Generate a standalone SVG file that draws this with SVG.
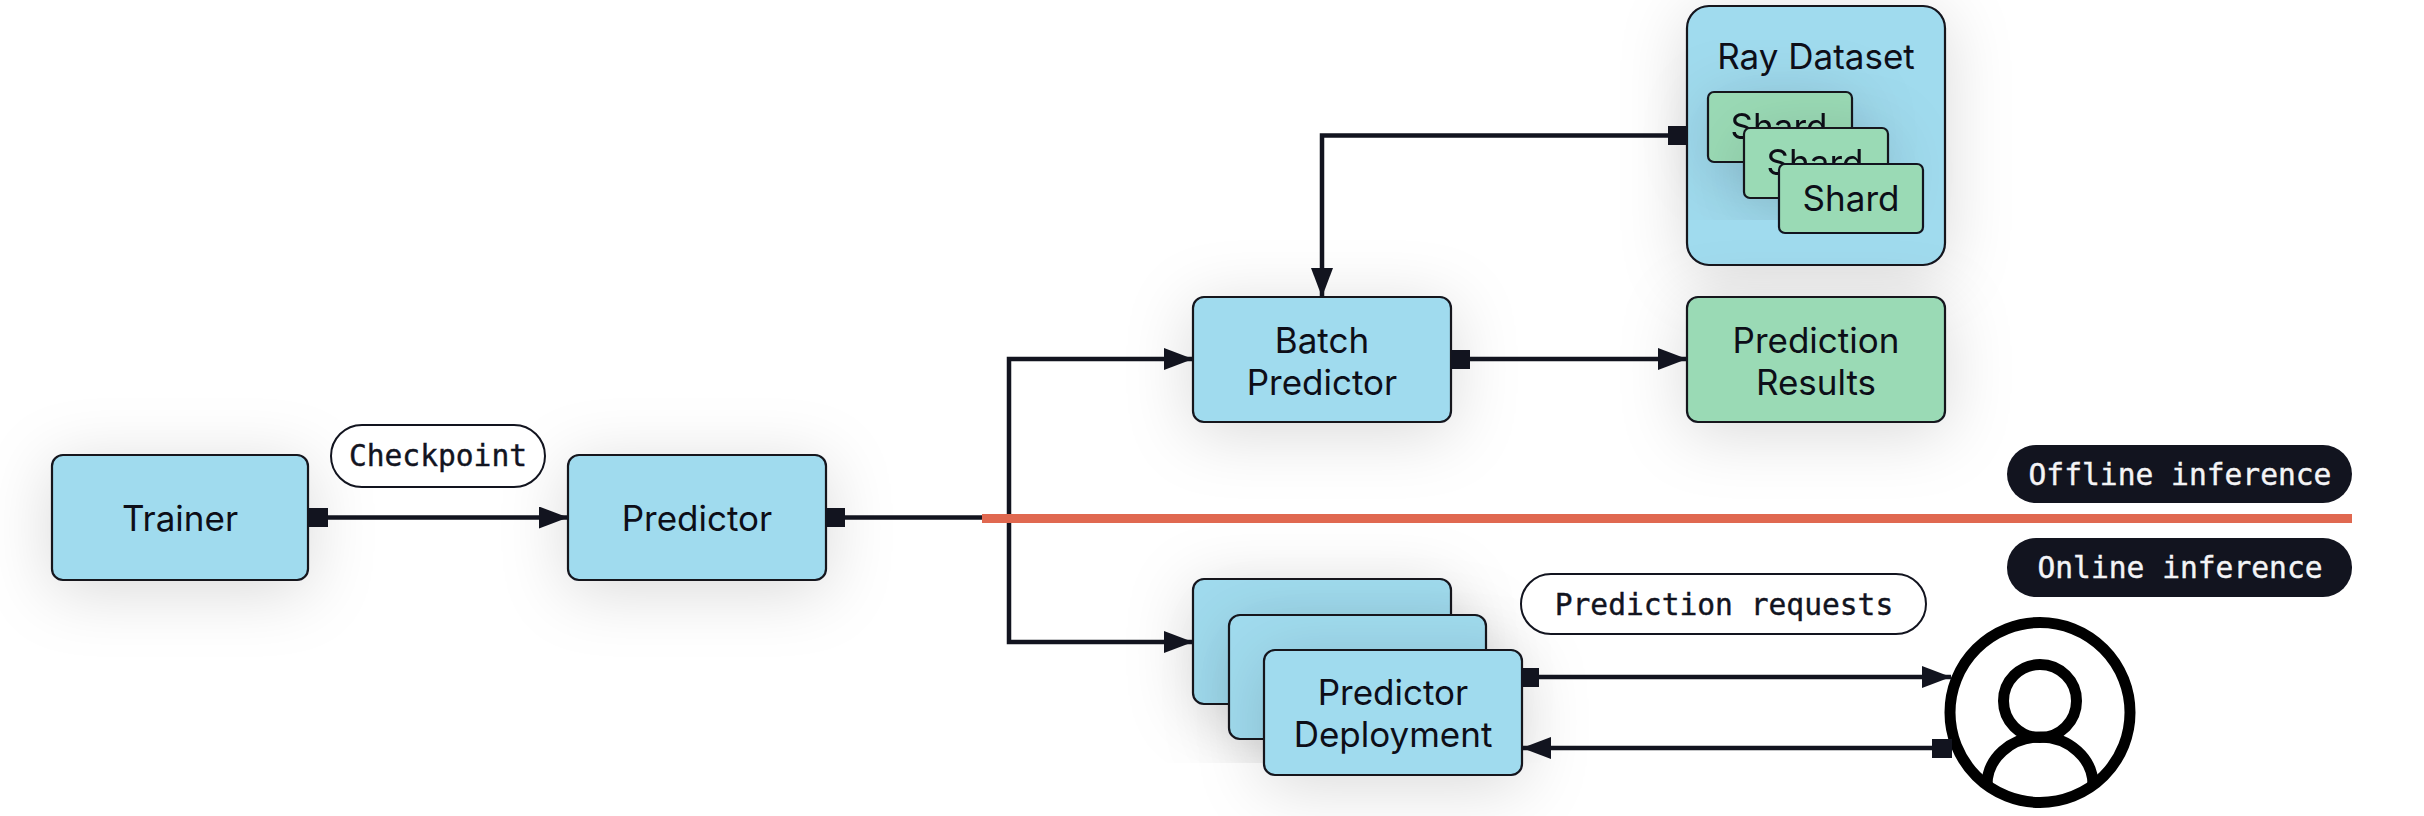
<svg xmlns="http://www.w3.org/2000/svg" width="2424" height="816" viewBox="0 0 2424 816">
<style>
.blue{fill:#a0dbee;stroke:#12141f;stroke-width:2.2}
.green{fill:#9adab5;stroke:#12141f;stroke-width:2.2}
.sh{filter:url(#shadow)}
.t{font-family:"Inter","Liberation Sans",sans-serif;font-size:35px;fill:#0d0e18;text-anchor:middle}
.m{font-family:"DejaVu Sans Mono","Liberation Mono",monospace;font-size:29.600px;text-anchor:middle;stroke-width:0.4px}
.pill{fill:#fff;stroke:#12141f;stroke-width:2}
.dark{fill:#12141f}
.w{fill:#f4f4f6;stroke:#f4f4f6}
.k{fill:#12141f;stroke:#12141f}
.c{fill:none;stroke:#12141f;stroke-width:4.5}
.port{fill:#12141f}
</style>
<defs>
<filter id="shadow" x="-50%" y="-80%" width="200%" height="270%"><feDropShadow dx="0" dy="10" stdDeviation="33" flood-color="#000" flood-opacity="0.15"/></filter>
<filter id="shadowA" filterUnits="userSpaceOnUse" x="1640" y="40" width="320" height="180"><feDropShadow dx="0" dy="10" stdDeviation="33" flood-color="#000" flood-opacity="0.15"/></filter>
<filter id="shadowB" filterUnits="userSpaceOnUse" x="1100" y="500" width="460" height="263"><feDropShadow dx="0" dy="10" stdDeviation="33" flood-color="#000" flood-opacity="0.15"/></filter>
<marker id="arrow" markerUnits="userSpaceOnUse" markerWidth="29" markerHeight="22" refX="29" refY="11" orient="auto"><path d="M0 0L29 11L0 22Z" fill="#12141f"/></marker>
</defs>
<g id="trainer"><rect class="blue sh" x="52" y="455" width="256" height="125" rx="11"/><text class="t" x="180" y="531">Trainer</text></g>
<g id="predictor"><rect class="blue sh" x="568" y="455" width="258" height="125" rx="11"/><text class="t" x="697" y="531">Predictor</text></g>
<g id="checkpoint-label"><rect class="pill" x="331" y="425" width="214" height="62" rx="31"/><text class="m k" x="438" y="466">Checkpoint</text></g>
<g id="batch-predictor"><rect class="blue sh" x="1193" y="297" width="258" height="125" rx="11"/><text class="t" x="1322" y="353">Batch</text><text class="t" x="1322" y="395">Predictor</text></g>
<g id="ray-dataset"><rect class="blue sh" x="1687" y="6" width="258" height="259" rx="22"/><text class="t" x="1816" y="69">Ray Dataset</text>
<g style="filter:url(#shadowA)"><rect class="green" x="1708" y="92" width="144" height="70" rx="6"/><text class="t" x="1779" y="139">Shard</text></g>
<g style="filter:url(#shadowA)"><rect class="green" x="1744" y="128" width="144" height="70" rx="6"/><text class="t" x="1815" y="175">Shard</text></g>
<g><rect class="green" x="1779" y="164" width="144" height="69" rx="6"/><text class="t" x="1851" y="211">Shard</text></g></g>
<g id="prediction-results"><rect class="green sh" x="1687" y="297" width="258" height="125" rx="11"/><text class="t" x="1816" y="353">Prediction</text><text class="t" x="1816" y="395">Results</text></g>
<g id="predictor-deployment">
<g style="filter:url(#shadowB)"><rect class="blue" x="1193" y="579" width="258" height="125" rx="11"/></g>
<g style="filter:url(#shadowB)"><rect class="blue" x="1229" y="615" width="257" height="124" rx="11"/></g>
<rect class="blue sh" x="1264" y="650" width="258" height="125" rx="11"/><text class="t" x="1393" y="705">Predictor</text><text class="t" x="1393" y="747">Deployment</text></g>
<g id="requests-label"><rect class="pill" x="1521" y="574" width="405" height="60" rx="30"/><text class="m k" x="1724" y="615">Prediction requests</text></g>
<g id="user"><circle cx="2040" cy="712.500" r="90" fill="#fff" stroke="#000" stroke-width="11"/><circle cx="2040" cy="701" r="36.500" fill="none" stroke="#000" stroke-width="11"/><path d="M1987 785A53 48 0 0 1 2093 785" fill="none" stroke="#000" stroke-width="11"/></g>
<g id="connectors">
<path class="c" d="M328 517.500H568" marker-end="url(#arrow)"/>
<path class="c" d="M845 517.500H1009"/>
<path class="c" d="M1009 517V359H1193" marker-end="url(#arrow)"/>
<path class="c" d="M1009 517V642H1193" marker-end="url(#arrow)"/>
<path class="c" d="M1470 359H1687" marker-end="url(#arrow)"/>
<path class="c" d="M1670 135.500H1322V297" marker-end="url(#arrow)"/>
<path class="c" d="M1539 677H1951" marker-end="url(#arrow)"/>
<path class="c" d="M1932 748H1522" marker-end="url(#arrow)"/>
<rect class="port" x="308" y="508" width="20" height="19"/>
<rect class="port" x="826" y="508" width="19" height="19"/>
<rect class="port" x="1451" y="350" width="19" height="19"/>
<rect class="port" x="1668" y="126" width="19" height="19"/>
<rect class="port" x="1521" y="668" width="18" height="19"/>
<rect class="port" x="1932" y="739" width="20" height="19"/>
</g>
<rect id="divider" x="982" y="514" width="1370" height="9" fill="#e06850"/>
<g id="offline-label"><rect class="dark" x="2007" y="445" width="345" height="58" rx="29"/><text class="m w" x="2180" y="484.500">Offline inference</text></g>
<g id="online-label"><rect class="dark" x="2007" y="538" width="345" height="59" rx="29"/><text class="m w" x="2180" y="578">Online inference</text></g>
</svg>
